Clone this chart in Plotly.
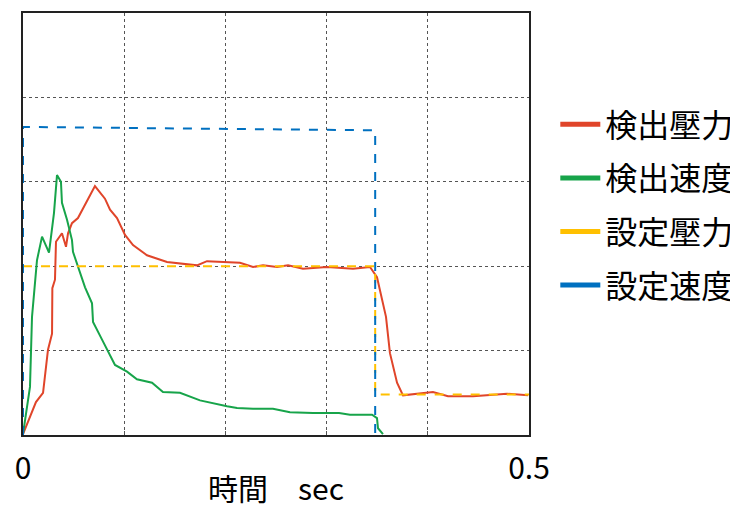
import plotly.graph_objects as go

# 検出壓力 (detected pressure)
p_t = [0, 0.0128, 0.0198, 0.0247, 0.0287, 0.0290, 0.0316, 0.0326, 0.0385, 0.0425, 0.0445, 0.0484,
       0.0543, 0.0613, 0.0711, 0.0810, 0.0860, 0.0929, 0.1008, 0.1087, 0.1225, 0.1423, 0.1719,
       0.1818, 0.2144, 0.2273, 0.2372, 0.2510, 0.2619, 0.2767, 0.3004, 0.3261, 0.3429, 0.3498,
       0.3587, 0.3626, 0.3696, 0.3755, 0.3893, 0.4051, 0.4200, 0.4447, 0.4783, 0.4990]
p_v = [0.01, 0.39, 0.50, 1.01, 1.20, 1.74, 1.84, 2.29, 2.39, 2.23, 2.39, 2.51,
       2.57, 2.73, 2.95, 2.80, 2.67, 2.57, 2.37, 2.25, 2.13, 2.05, 2.01,
       2.06, 2.04, 1.99, 2.01, 1.99, 2.01, 1.97, 1.99, 1.97, 1.99, 1.87,
       1.40, 0.97, 0.62, 0.47, 0.49, 0.51, 0.46, 0.46, 0.49, 0.47]

# 検出速度 (detected speed)
s_t = [0, 0.0069, 0.0089, 0.0138, 0.0188, 0.0257, 0.0306, 0.0336, 0.0375, 0.0385, 0.0435, 0.0484,
       0.0494, 0.0613, 0.0682, 0.0692, 0.0781, 0.0909, 0.1028, 0.1126, 0.1275, 0.1383, 0.1551,
       0.1749, 0.2016, 0.2115, 0.2273, 0.2470, 0.2638, 0.2866, 0.3123, 0.3231, 0.3449, 0.3498,
       0.3508, 0.3557]
s_v = [0.01, 0.57, 1.40, 2.07, 2.35, 2.16, 2.63, 3.08, 3.00, 2.75, 2.55, 2.31,
       2.17, 1.75, 1.56, 1.34, 1.13, 0.83, 0.75, 0.66, 0.62, 0.51, 0.50,
       0.41, 0.34, 0.32, 0.31, 0.31, 0.27, 0.26, 0.26, 0.24, 0.24, 0.20,
       0.08, 0.01]

# 設定壓力 (set pressure)
sp_t = [0, 0.348, 0.348, 0.5]
sp_v = [2.0, 2.0, 0.48, 0.48]

# 設定速度 (set speed)
ss_t = [0, 0, 0.348, 0.348]
ss_v = [0, 3.65, 3.61, 0]

x_ticks = [0, 0.1, 0.2, 0.3, 0.4, 0.5]
x_labels = ["0", "", "", "", "", "0.5"]

series_names = ["検出壓力", "検出速度", "設定壓力", "設定速度"]
series_colors = ["#E0452A", "#17A44A", "#FFC000", "#0070C0"]

FONT = "Noto Sans CJK JP"

fig = go.Figure()
data = [(p_t, p_v, None), (s_t, s_v, None), (sp_t, sp_v, "dash"), (ss_t, ss_v, "dash")]
for (xs, ys, dash), name, color in zip(data, series_names, series_colors):
    fig.add_trace(go.Scatter(x=xs, y=ys, mode="lines", name=name, legendgroup=name,
                             showlegend=False,
                             line=dict(color=color, width=2, dash=dash)))
# legend entries (solid swatches as in the reference)
for name, color in zip(series_names, series_colors):
    fig.add_trace(go.Scatter(x=[None], y=[None], mode="lines", name=name, legendgroup=name,
                             showlegend=True, line=dict(color=color, width=5)))

fig.update_layout(
    width=730, height=502,
    margin=dict(l=15, r=209, t=5, b=75, autoexpand=False),
    paper_bgcolor="white", plot_bgcolor="white",
    font=dict(family=FONT, color="black"),
    showlegend=True,
    legend=dict(x=1.052, xanchor="left", xref="paper", y=0.545, yanchor="middle",
                font=dict(size=32, family=FONT), itemwidth=40,
                traceorder="grouped", tracegroupgap=9, bgcolor="rgba(0,0,0,0)"),
    xaxis=dict(range=[0, 0.5], tickvals=x_ticks, ticktext=x_labels, automargin=False,
               tickfont=dict(size=30), ticklabelstandoff=6, showgrid=True, gridcolor="#555555",
               griddash="dot", gridwidth=1, zeroline=False,
               showline=True, linecolor="#222222", linewidth=2, mirror=True,
               ticks="inside", ticklen=4, tickcolor="#555555"),
    yaxis=dict(range=[0, 5], dtick=1, showticklabels=False, showgrid=True, automargin=False,
               gridcolor="#555555", griddash="dot", gridwidth=1, zeroline=False,
               showline=True, linecolor="#222222", linewidth=2, mirror=True),
    annotations=[dict(text="時間\u3000sec", x=0.5, xref="paper", y=0.0, yref="paper",
                      yshift=-52, xanchor="center", yanchor="middle", showarrow=False,
                      font=dict(size=30, family=FONT))],
)

fig.write_html("out.html")
